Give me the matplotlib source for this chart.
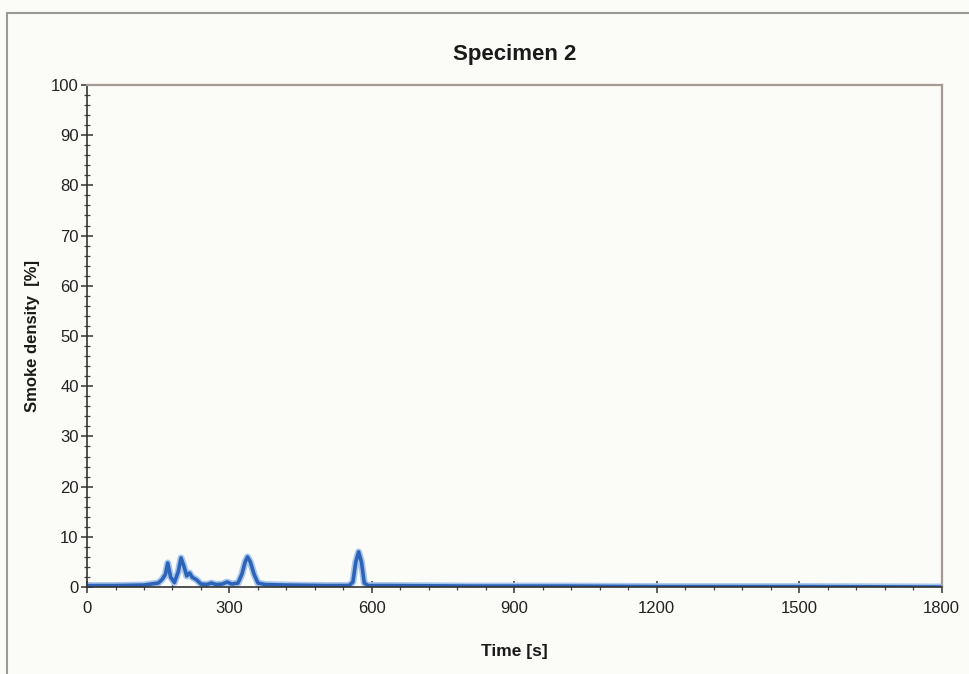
import matplotlib.pyplot as plt
from matplotlib.ticker import MultipleLocator
from matplotlib.patches import Rectangle

plt.rcParams["font.family"] = ["Liberation Sans", "DejaVu Sans"]

# Smoke density readings, specimen 2
time_s = [0, 60, 120, 150, 158, 165, 170, 176, 184, 192, 198, 204, 210, 216, 222, 230,
          240, 252, 262, 272, 285, 295, 305, 318, 326, 333, 338, 344, 352, 360, 375,
          420, 500, 552, 560, 566, 572, 578, 584, 592, 640, 800, 1000, 1200, 1500, 1800]
smoke_pct = [0.3, 0.3, 0.4, 0.8, 1.5, 2.5, 4.8, 2.0, 0.9, 3.0, 5.8, 4.2, 2.2, 2.8, 1.9, 1.5,
             0.6, 0.5, 0.8, 0.5, 0.6, 1.0, 0.6, 0.8, 2.5, 5.0, 6.0, 5.0, 2.5, 0.8, 0.5,
             0.4, 0.3, 0.3, 1.0, 5.0, 7.0, 5.0, 0.8, 0.3, 0.3, 0.2, 0.2, 0.1, 0.1, 0.0]

x_ticks = [0, 300, 600, 900, 1200, 1500, 1800]
y_ticks = list(range(0, 101, 10))

bg = "#fbfbf8"
fig = plt.figure(figsize=(9.69, 6.74), dpi=100, facecolor=bg)
fig.patches.append(Rectangle((0.007, -0.01), 1.02, 0.99, transform=fig.transFigure,
                             fill=False, edgecolor="#9a9a9a", lw=1.5))
ax = fig.add_axes([0.0898, 0.129, 0.882, 0.745], facecolor=bg)

ax.plot(time_s, smoke_pct, color="#a9c6ec", lw=5, solid_joinstyle="round")
ax.plot(time_s, smoke_pct, color="#2e64b8", lw=2.6, solid_joinstyle="round")

ax.set_xlim(0, 1800)
ax.set_ylim(0, 100)
ax.set_xticks(x_ticks)
ax.set_yticks(y_ticks)
ax.xaxis.set_minor_locator(MultipleLocator(60))
ax.yaxis.set_minor_locator(MultipleLocator(2))
ax.tick_params(axis="both", which="major", direction="inout", length=8, width=1.1,
               color="#333333", labelsize=12, labelcolor="#222222")
ax.tick_params(axis="both", which="minor", direction="inout", length=5, width=0.9,
               color="#444444")
ax.tick_params(axis="y", pad=2)
ax.tick_params(axis="x", pad=6)

for s in ["left", "bottom"]:
    ax.spines[s].set_color("#333333")
    ax.spines[s].set_linewidth(1.2)
for s in ["top", "right"]:
    ax.spines[s].set_color("#a39b93")
    ax.spines[s].set_linewidth(1.6)

ax.set_title("Specimen 2", fontsize=16, fontweight="bold", color="#1a1a1a", pad=18)
ax.set_xlabel("Time [s]", fontsize=12.5, fontweight="bold", color="#1a1a1a", labelpad=20)
ax.set_ylabel("Smoke density  [%]", fontsize=12, fontweight="bold", color="#1a1a1a",
              labelpad=8)

fig.savefig("out.png", dpi=100, facecolor=bg)
